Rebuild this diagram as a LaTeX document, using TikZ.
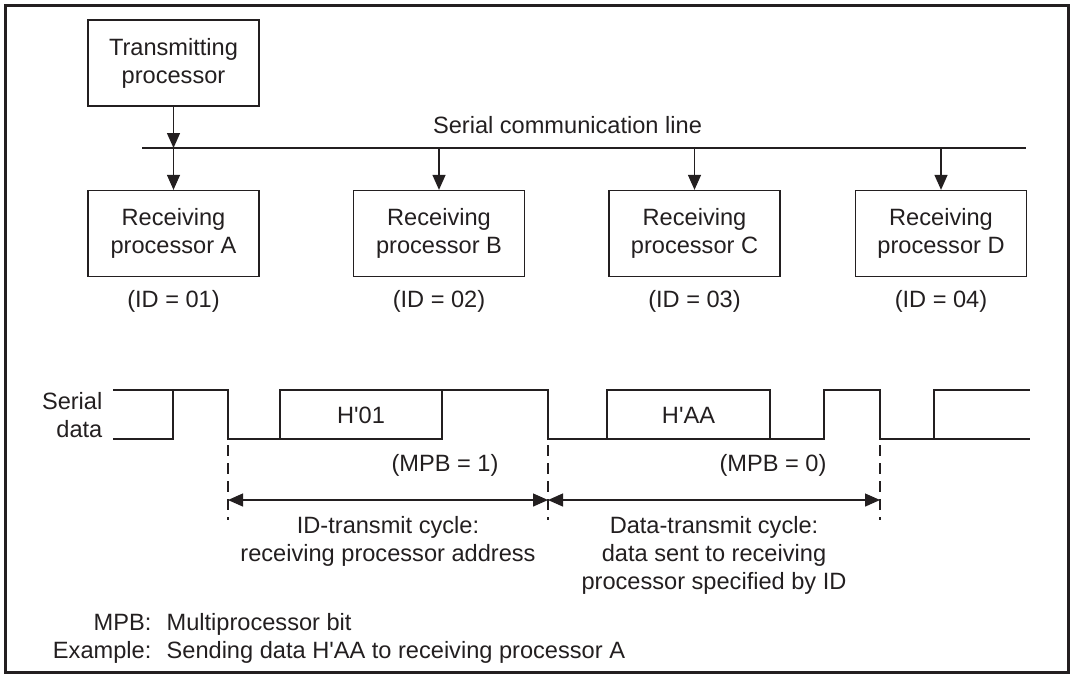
\documentclass[tikz,border=0pt]{standalone}
\usepackage{fontspec}
\setmainfont{Liberation Sans}
\usetikzlibrary{arrows.meta}
\definecolor{ink}{RGB}{35,31,32}
\tikzset{
  every node/.style={inner sep=0pt},
  proc/.style={draw, minimum width=85.5pt, minimum height=43pt, align=center},
  cyclemark/.style={dash pattern=on 5.5pt off 3.5pt},
  >={Triangle[length=7.5pt,width=6.5pt]},
}
\newcommand{\apos}{\textquotesingle}

\begin{document}
\begin{tikzpicture}[x=0.5pt, y=-0.5pt, line width=0.65pt, color=ink,
    font=\fontsize{11.8pt}{14pt}\selectfont]
  \useasboundingbox (0,0) rectangle (1074,677);
  \draw[line width=1.5pt] (5.5,5.5) rectangle (1068.5,672);

  \node[proc] (tx) at (173.5,63) {Transmitting\\processor};
  \node[proc] (rxA) at (173.5,233.5) {Receiving\\processor A};
  \node[proc] (rxB) at (439,233.5) {Receiving\\processor B};
  \node[proc] (rxC) at (694.5,233.5) {Receiving\\processor C};
  \node[proc] (rxD) at (941,233.5) {Receiving\\processor D};

  \coordinate (lineL) at (142,148);
  \coordinate (lineR) at (1026,148);
  \draw (lineL) -- (lineR);
  \node[anchor=base] (linelbl) at (567.5,133) {Serial communication line};

  \draw[->] (tx) -- (tx |- lineL);
  \foreach \r in {rxA,rxB,rxC,rxD}
    \draw[->] (\r |- lineL) -- (\r);

  \node[anchor=base] (idA) at (173.5,307) {(ID = 01)};
  \node[anchor=base] (idB) at (439,307) {(ID = 02)};
  \node[anchor=base] (idC) at (694.5,307) {(ID = 03)};
  \node[anchor=base] (idD) at (941,307) {(ID = 04)};

  \node[align=right, anchor=base east] (sdlbl) at (103,437) {Serial\\data};

  \draw (113,439) -- (173,439) -- (173,390);
  \draw (113,390) -- (228,390) -- (228,439) -- (280,439) -- (280,390)
    -- (548,390) -- (548,439) -- (824,439) -- (824,390) -- (880,390)
    -- (880,439) -- (1030,439);
  \draw (280,439) -- (442,439) -- (442,390);
  \draw (607,439) -- (607,390) -- (770,390) -- (770,439);
  \draw (934,439) -- (934,390) -- (1030,390);

  \node[anchor=base] (h01) at (361,423) {H\apos01};
  \node[anchor=base] (haa) at (688.5,423) {H\apos AA};
  \node[anchor=base] (mpb1) at (445,471) {(MPB = 1)};
  \node[anchor=base] (mpb0) at (773,471) {(MPB = 0)};

  \coordinate (c0) at (228,500);
  \coordinate (c1) at (548,500);
  \coordinate (c2) at (880,500);
  \foreach \c in {c0,c1,c2}
    \draw[cyclemark] ([yshift=27.5pt]\c) -- ([yshift=-10pt]\c);
  \draw[<->] (c0) -- (c1);
  \draw[<->] (c1) -- (c2);

  \node[align=center, anchor=base] (idcyc) at (388,561)
    {ID-transmit cycle:\\receiving processor address};
  \node[align=center, anchor=base] (datcyc) at (714,589)
    {Data-transmit cycle:\\data sent to receiving\\processor specified by ID};

  \node[anchor=base east] (mpbkey) at (152,630) {MPB:};
  \node[anchor=base west] (mpbtxt) at (166,630) {Multiprocessor bit};
  \node[anchor=base east] (exkey) at (152,658) {Example:};
  \node[anchor=base west] (extxt) at (166,658)
    {Sending data H\apos AA to receiving processor A};
\end{tikzpicture}
\end{document}
